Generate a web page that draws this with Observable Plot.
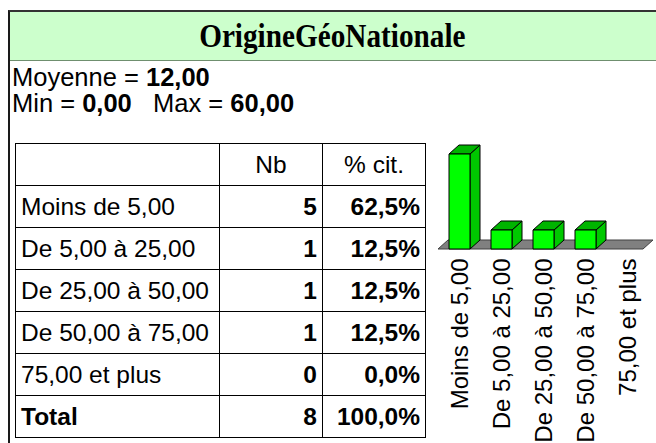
<!DOCTYPE html>
<html><head><meta charset="utf-8">
<script src="https://cdn.jsdelivr.net/npm/d3@7"></script>
<script src="https://cdn.jsdelivr.net/npm/@observablehq/plot@0.6"></script>
<style>
html,body{margin:0;padding:0;background:#fff;width:656px;height:443px;overflow:hidden;position:relative;font-family:"Liberation Sans",Arial,sans-serif;color:#000;}
#frame{position:absolute;left:8px;top:10px;width:700px;height:500px;border-left:2px solid #1a1a1a;border-top:2px solid #333;}
#titlebar{position:absolute;left:10px;top:12px;width:700px;height:48px;background:#ccffcc;border-bottom:1px solid #6f8f6f;}
#title{position:absolute;left:10px;top:12px;width:644px;height:48px;line-height:48px;text-align:center;font-family:"Liberation Serif","Times New Roman",serif;font-weight:bold;font-size:33px;}
#title span{display:inline-block;transform:scaleX(0.886);}
.stat{position:absolute;left:12px;font-size:25.5px;line-height:26px;white-space:pre;}
table{position:absolute;left:15px;top:143px;border-collapse:collapse;font-size:24.5px;}
td{border:1px solid #000;padding:0 5px;height:42px;box-sizing:border-box;white-space:nowrap;}
td.lab{width:204px;text-align:left;}
td.num{width:103px;text-align:right;font-weight:bold;}
tr.head td{text-align:center;font-weight:normal;}
tr.total td.lab{font-weight:bold;}
#chart{position:absolute;left:430px;top:130px;}
</style></head>
<body>
<div id="frame"></div>
<div id="titlebar"></div>
<div id="title"><span>OrigineGéoNationale</span></div>
<div class="stat" id="s1" style="top:64px"></div>
<div class="stat" id="s2" style="top:90px"></div>
<table id="tbl"></table>
<div id="chart"></div>
<script>
// ---- data ----
const title = "OrigineGéoNationale";
const statLabels = ["Moyenne", "Min", "Max"];
const statValues = ["12,00", "0,00", "60,00"];
const categories = ["Moins de 5,00", "De 5,00 à 25,00", "De 25,00 à 50,00", "De 50,00 à 75,00", "75,00 et plus"];
const counts = [5, 1, 1, 1, 0];
const percents = ["62,5%", "12,5%", "12,5%", "12,5%", "0,0%"];
const headers = ["", "Nb", "% cit."];
const totalRow = ["Total", "8", "100,0%"];

// ---- stats ----
d3.select("#s1").html(`${statLabels[0]} = <b>${statValues[0]}</b>`);
d3.select("#s2").html(`${statLabels[1]} = <b>${statValues[1]}</b>   ${statLabels[2]} = <b>${statValues[2]}</b>`);

// ---- table ----
const tbl = d3.select("#tbl");
const hr = tbl.append("tr").attr("class", "head");
headers.forEach((h, j) => hr.append("td").attr("class", j ? "num" : "lab").text(h));
categories.forEach((c, i) => {
  const r = tbl.append("tr");
  r.append("td").attr("class", "lab").text(c);
  r.append("td").attr("class", "num").text(counts[i]);
  r.append("td").attr("class", "num").text(percents[i]);
});
const tr = tbl.append("tr").attr("class", "total");
totalRow.forEach((t, j) => tr.append("td").attr("class", j ? "num" : "lab").text(t));

// ---- 3D bar chart ----
const data = categories.map((c, i) => ({cat: c, n: counts[i]}));
const DX = 10, DY = 9;
const FRONT = "#00ff00", TOP = "#00b400", SIDE = "#00c800";

const floorMark = Plot.ruleY([0], {
  render(index, scales, values) {
    const y0 = values.y[0];
    const [r0, r1] = scales.x.range();
    const a = r0 - 10, b = r1 + 4;
    return d3.create("svg:path")
      .attr("fill", "#808080").attr("stroke", "#404040").attr("stroke-width", 1)
      .attr("d", `M${a},${y0}L${b},${y0}L${b + DX},${y0 - DY}L${a + DX},${y0 - DY}Z`).node();
  }
});

const barMark = Plot.barY(data.filter(d => d.n > 0), {
  x: "cat", y: "n",
  render(index, scales, values) {
    const g = d3.create("svg:g").attr("stroke", "#000").attr("stroke-width", 1).attr("stroke-linejoin", "round");
    const bw = scales.x.bandwidth();
    for (const i of index) {
      const x0 = values.x[i], x1 = x0 + bw;
      const yb = Math.max(values.y1[i], values.y2[i]);
      const yt = Math.min(values.y1[i], values.y2[i]);
      g.append("path").attr("fill", SIDE)
        .attr("d", `M${x1},${yb}L${x1 + DX},${yb - DY}L${x1 + DX},${yt - DY}L${x1},${yt}Z`);
      g.append("path").attr("fill", TOP)
        .attr("d", `M${x0},${yt}L${x0 + DX},${yt - DY}L${x1 + DX},${yt - DY}L${x1},${yt}Z`);
      g.append("rect").attr("fill", FRONT)
        .attr("x", x0).attr("y", yt).attr("width", bw).attr("height", yb - yt);
    }
    return g.node();
  }
});

const chart = Plot.plot({
  width: 226, height: 313,
  marginLeft: 18, marginRight: 17, marginTop: 24, marginBottom: 194,
  style: {fontFamily: "'Liberation Sans', Arial, sans-serif", fontSize: "24px", color: "#000", overflow: "visible", background: "transparent"},
  x: {domain: categories, paddingInner: 0.506, paddingOuter: 0, label: null},
  y: {domain: [0, 5], axis: null},
  marks: [
    floorMark,
    barMark,
    Plot.axisX({tickRotate: -90, tickSize: 0, tickPadding: 9, fontSize: 24, fill: "#000", label: null})
  ]
});
document.getElementById("chart").appendChild(chart);
</script>
</body></html>
